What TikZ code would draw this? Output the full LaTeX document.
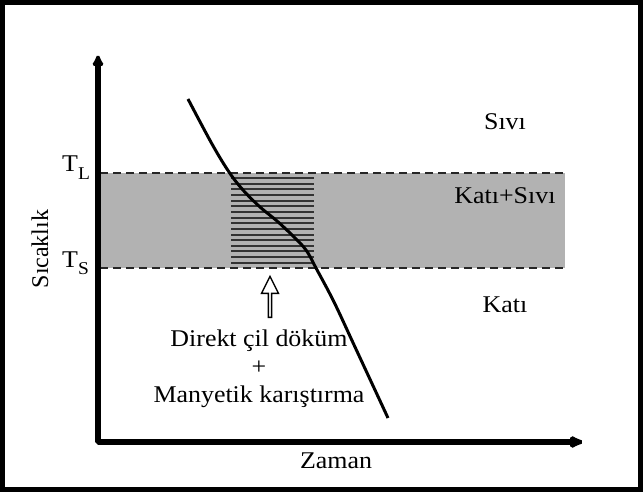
\documentclass[tikz,border=0pt]{standalone}
\usepackage{fontspec}
\setmainfont{Liberation Serif}
\usepackage{tikz}
\usetikzlibrary{%
  shapes.arrows,
  arrows.meta,
  positioning}
\newcommand{\lowidx}[1]{\raisebox{-7pt}{\fontsize{18}{18}\selectfont #1}}
\tikzset{
  %% Frame round the figure
  frame/.style={draw=black, line width=4.5pt},
  %% Axes with filled tips
  axis/.style={line width=5.5pt, miter limit=1,
    {Latex[length=14pt,width=14pt]}-{Latex[length=18pt,width=15pt]}},
  %% Mushy zone band and its limits
  band/.style={fill=black!30},
  limit/.style={line width=2.5pt, black!85, dash pattern=on 8pt off 5pt},
  %% Hatched zone
  hatch/.style={line width=2pt, black!80},
  %% Cooling curve
  cooling/.style={line width=3pt, black},
  %% Texts
  phase/.style={font=\fontsize{24}{28}\selectfont, inner sep=0pt},
  wide/.style={xscale=1.08},
  %% Hollow arrow
  push/.style={single arrow, draw=black, line width=1.4pt, fill=white,
    rotate=90, inner sep=0pt, minimum width=17pt, minimum height=41pt,
    single arrow head extend=3pt, single arrow tip angle=53},
}
\begin{document}
\begin{tikzpicture}[x=1pt,y=-1pt]

  \useasboundingbox (0,0) rectangle (643,492);
  \draw[frame] (2.5,2.5) rectangle (640.5,489.5);

  %% Solid + liquid band
  \fill[band] (100,173) rectangle (565,268);

  %% Hatching
  \foreach \i in {0,...,15}
    \draw[hatch] (231,178+\i*5.65) -- (314,178+\i*5.65);

  \coordinate (tl0) at (100,173);
  \coordinate (tl1) at (565,173);
  \coordinate (ts0) at (100,268);
  \coordinate (ts1) at (565,268);
  \draw[limit] (tl0) -- (tl1);
  \draw[limit] (ts0) -- (ts1);

  %% Cooling curve
  \draw[cooling] plot[smooth, tension=0.6] coordinates {
    (188,99) (212,144) (229,172) (243,190) (260,207) (277,221)
    (293,236) (306,250) (316,268) (334,302) (355,347) (388,418)};

  %% Axes
  \coordinate (ytop) at (98,52);
  \coordinate (orig) at (98,442);
  \coordinate (xend) at (588,442);
  \draw[axis] (ytop) -- (orig) -- (xend);

  %% Labels
  \node[phase, wide, anchor=base west] (tl) at (62,172) {T\lowidx{L}};
  \node[phase, wide, anchor=base west] (ts) at (62,267) {T\lowidx{S}};
  \node[phase, rotate=90, anchor=base] (temp) at (48,249) {Sıcaklık};
  \node[phase, wide, anchor=base] (time) at (336,468) {Zaman};
  \node[phase, wide] (liq) at (505,122) {Sıvı};
  \node[phase, wide] (mush) at (505,196) {Katı+Sıvı};
  \node[phase, wide] (sol) at (505,305) {Katı};

  \node[push] (arr) at (270,298.5) {};
  \node[phase, wide, align=center] (proc) at (259,369)
        {Direkt çil döküm\\ +\\ Manyetik karıştırma};

\end{tikzpicture}
\end{document}
